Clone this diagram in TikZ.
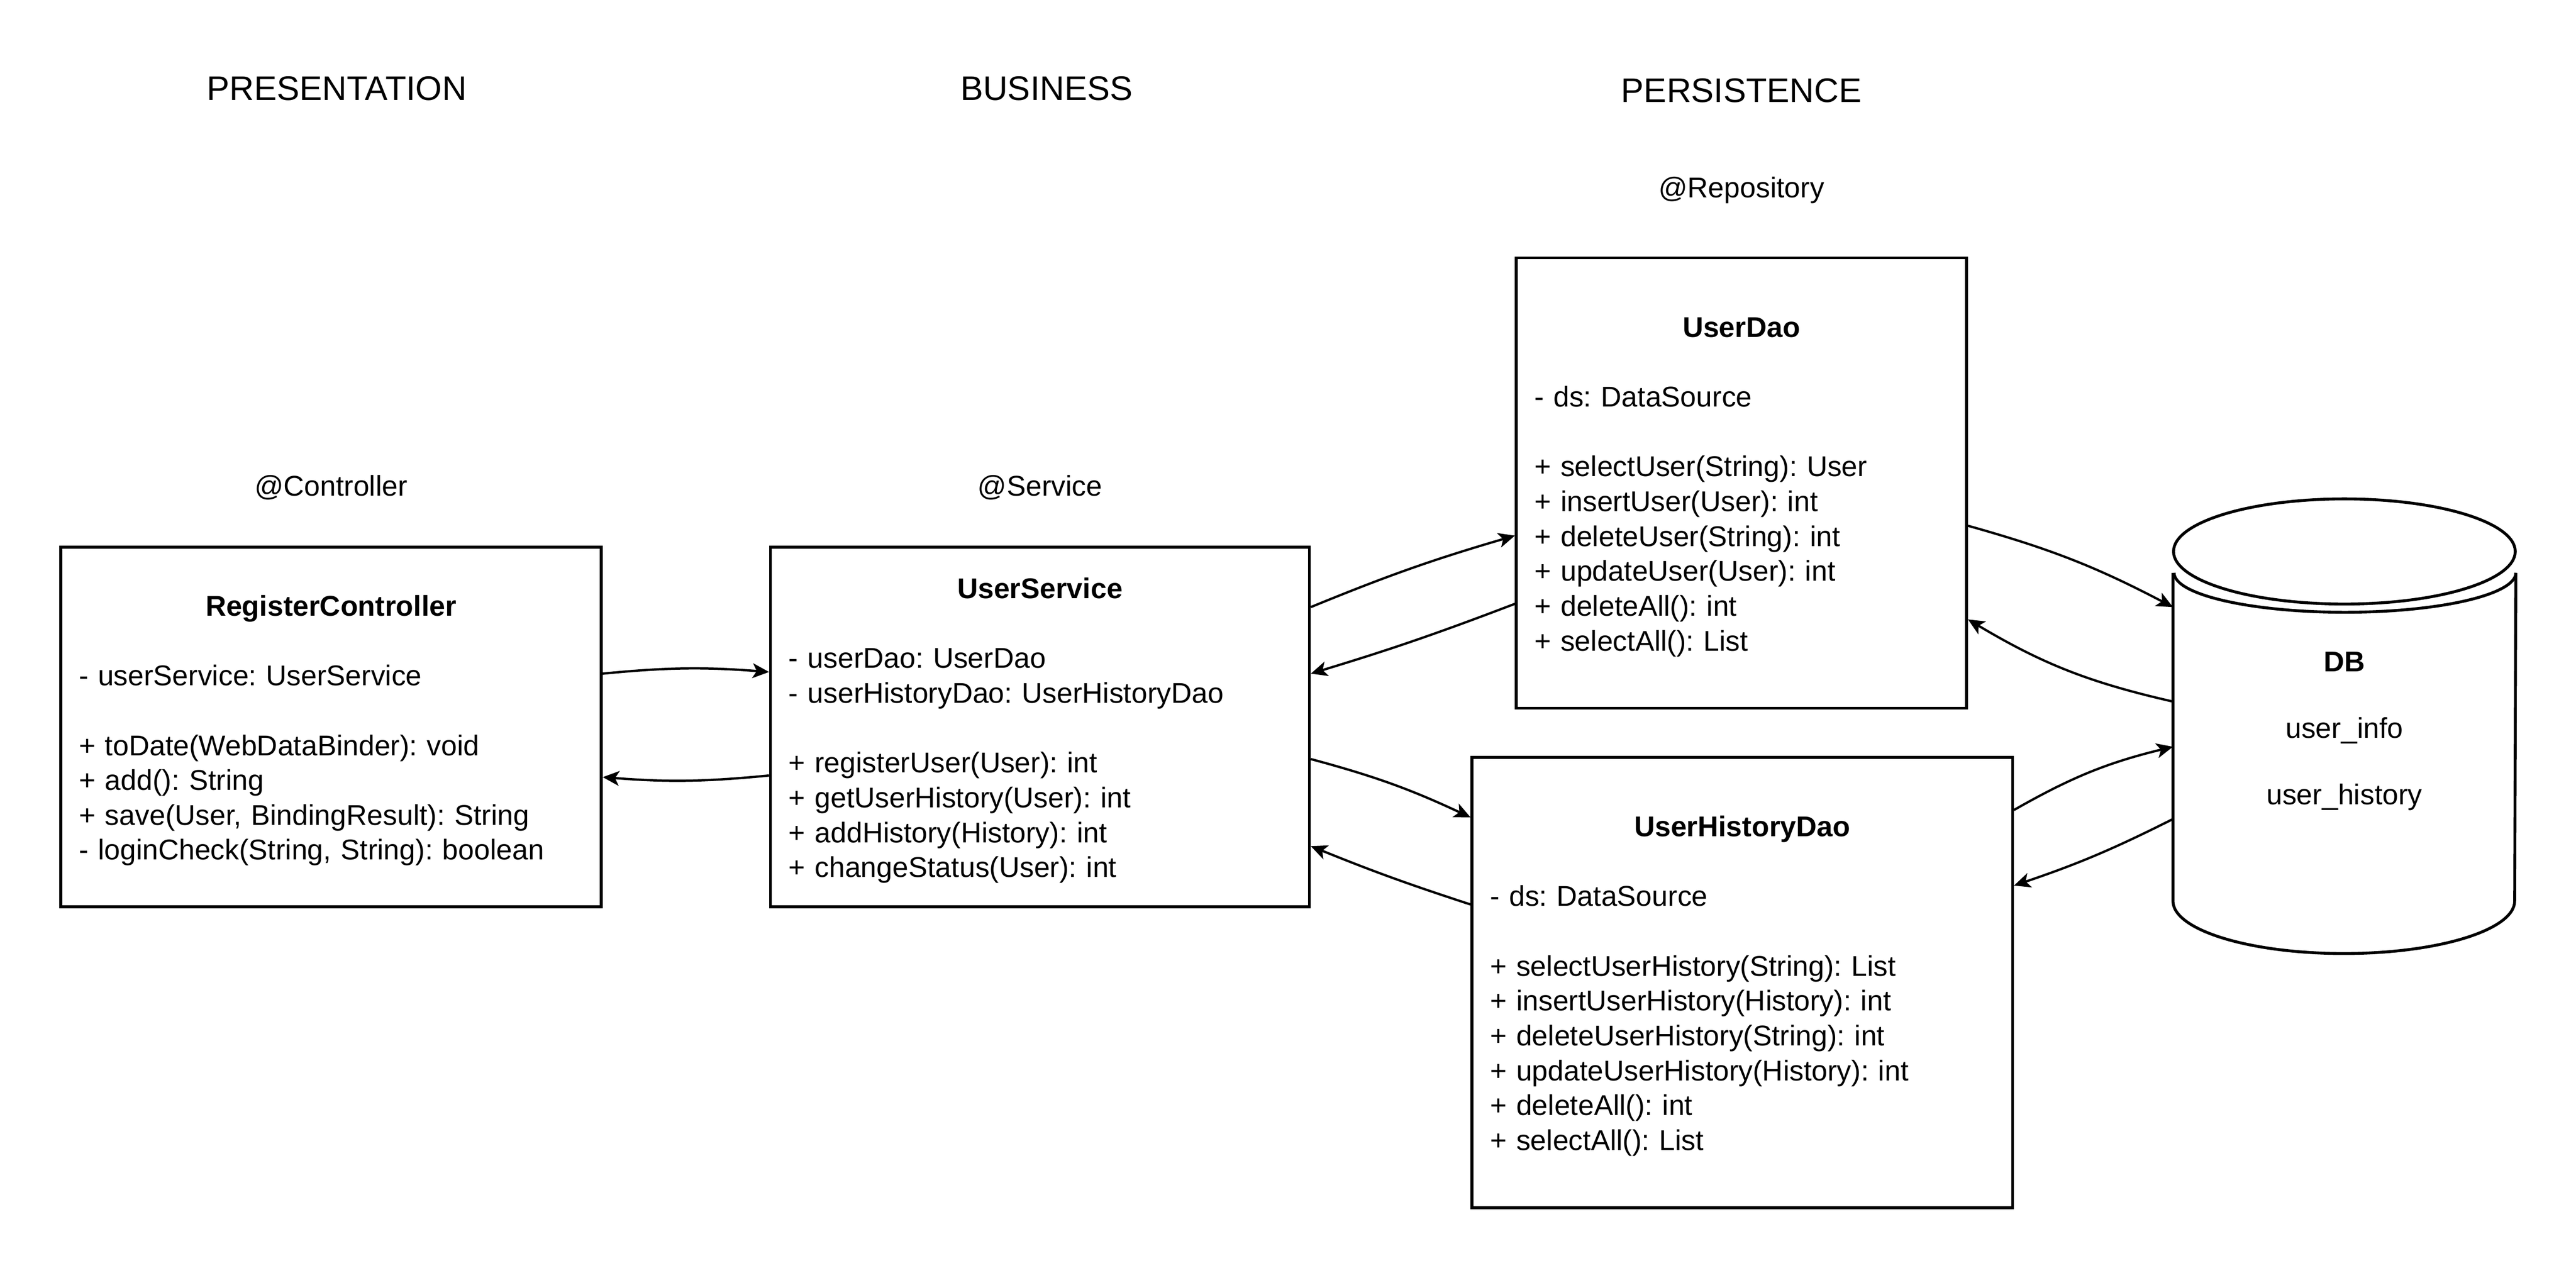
\documentclass[tikz,border=0pt]{standalone}
\usepackage{fontspec}
\setmainfont{Liberation Sans}
\usepackage{tikz}
\usetikzlibrary{arrows.meta, positioning}

\newcommand{\classtitle}[1]{\leavevmode\rule{0pt}{9.6pt}\makebox[\linewidth]{\textbf{#1}}}

\begin{document}
\frenchspacing
\begin{tikzpicture}[
    font=\fontsize{9.9}{12.07}\selectfont,
    box/.style={rectangle, draw, line width=1pt, inner xsep=0.22cm, inner ysep=0pt, align=left},
    arrow/.style={-{Stealth[length=2mm, width=1.8mm, inset=0.5mm]}, line width=0.8pt},
    layer/.style={font=\fontsize{11.8}{14}\selectfont},
    stereo/.style={inner sep=0pt}
]
\useasboundingbox (0,0) rectangle (31.36,-15.434);

% Layer titles
\node[layer] (present) at (4.1,-1.08) {PRESENTATION};
\node[layer] (business) at (12.74,-1.08) {BUSINESS};
\node[layer] (persist) at (21.2,-1.1) {PERSISTENCE};

% Classes
\node[box, text width=6.14cm, minimum height=4.38cm] (ctrl) at (4.03,-8.85) {\classtitle{RegisterController}\\[\baselineskip]
- userService: UserService\\[\baselineskip]
+ toDate(WebDataBinder): void\\
+ add(): String\\
+ save(User, BindingResult): String\\
- loginCheck(String, String): boolean};
\node[box, text width=6.12cm, minimum height=4.38cm] (service) at (12.66,-8.85) {\classtitle{UserService}\\[\baselineskip]
- userDao: UserDao\\
- userHistoryDao: UserHistoryDao\\[\baselineskip]
+ registerUser(User): int\\
+ getUserHistory(User): int\\
+ addHistory(History): int\\
+ changeStatus(User): int};
\node[box, text width=5.04cm, minimum height=5.48cm] (dao) at (21.2,-5.88) {\classtitle{UserDao}\\[\baselineskip]
- ds: DataSource\\[\baselineskip]
+ selectUser(String): User\\
+ insertUser(User): int\\
+ deleteUser(String): int\\
+ updateUser(User): int\\
+ deleteAll(): int\\
+ selectAll(): List};
\node[box, text width=6.14cm, minimum height=5.48cm] (histdao) at (21.21,-11.96) {\classtitle{UserHistoryDao}\\[\baselineskip]
- ds: DataSource\\[\baselineskip]
+ selectUserHistory(String): List\\
+ insertUserHistory(History): int\\
+ deleteUserHistory(String): int\\
+ updateUserHistory(History): int\\
+ deleteAll(): int\\
+ selectAll(): List};

% Stereotypes
\node[stereo, above=0.55cm of ctrl] (ctrltag) {@Controller};
\node[stereo, above=0.55cm of service] (servicetag) {@Service};
\node[stereo, above=0.64cm of dao] (daotag) {@Repository};

% Database
\node[align=center, minimum width=4.16cm, minimum height=5.52cm] (db) at (28.54,-8.90) {\textbf{DB}\\[10.9pt]user\_info\\[10.9pt]user\_history};
\draw[line width=1pt] ([yshift=-0.58cm]db.north) ellipse (2.08 and 0.64);
\draw[line width=1pt] ([yshift=-0.84cm]db.north east) arc[start angle=0, end angle=-180, x radius=2.08, y radius=0.48];
\draw[line width=1pt] ([yshift=-0.84cm]db.north west) -- ([yshift=0.70cm]db.south west)
    arc[start angle=180, end angle=360, x radius=2.08, y radius=0.64] -- ([yshift=-0.84cm]db.north east);

% Arrows
\draw[arrow] ([yshift=0.65cm]ctrl.east) to[bend left=5] ([yshift=0.67cm]service.west);
\draw[arrow] ([yshift=-0.59cm]service.west) to[bend left=5] ([yshift=-0.61cm]ctrl.east);
\draw[arrow] ([yshift=1.46cm]service.east) to[bend left=3] ([yshift=-0.64cm]dao.west);
\draw[arrow] ([yshift=-1.47cm]dao.west) to[bend left=2] ([yshift=0.65cm]service.east);
\draw[arrow] ([yshift=-0.39cm]service.east) to[bend left=5] ([yshift=2.01cm]histdao.west);
\draw[arrow] ([yshift=0.95cm]histdao.west) to[bend left=2] ([yshift=-1.45cm]service.east);
\draw[arrow] ([yshift=-0.52cm]dao.east) to[bend left=6] ([yshift=1.51cm]db.west);
\draw[arrow] ([yshift=0.36cm]db.west) to[bend left=9] ([yshift=-1.66cm]dao.east);
\draw[arrow] ([yshift=2.10cm]histdao.east) to[bend left=8] ([yshift=-0.19cm]db.west);
\draw[arrow] ([yshift=-1.07cm]db.west) to[bend left=4] ([yshift=1.18cm]histdao.east);

\end{tikzpicture}
\end{document}
